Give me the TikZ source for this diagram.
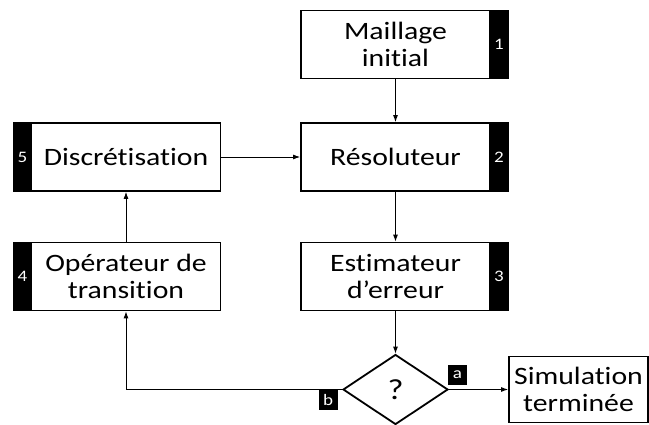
\documentclass[tikz,border=0pt]{standalone}
\usepackage{fontspec}
\setmainfont{Carlito}[Ligatures=NoCommon,FakeStretch=1.19]
\usetikzlibrary{arrows.meta,shapes.geometric}
\begin{document}
\begin{tikzpicture}[x=1pt,y=-1pt,
  box/.style={draw=black,line width=1.8pt,fill=white,minimum width=189pt,minimum height=68pt,inner sep=0pt,align=center,font=\fontsize{25}{26.5}\selectfont},
  bar/.style={draw=black,line width=1.8pt,fill=black,minimum width=18pt,minimum height=68pt,inner sep=0pt,text=white,font=\fontsize{16}{18}\selectfont},
  tag/.style={fill=black,minimum width=19pt,minimum height=20pt,inner sep=0pt,text=white,font=\fontsize{16}{18}\selectfont},
  arr/.style={-{Latex[length=7pt,width=5pt]},line width=0.9pt}]
\path[use as bounding box,fill=white] (0,0) rectangle (649,425);
% right column
\node[box] (m1) at (395.5,44.5) {Maillage\\initial};
\node[bar] (b1) at (499,44.5) {1};
\node[box] (r2) at (395.5,157) {Résoluteur};
\node[bar] (b2) at (499,157) {2};
\node[box] (e3) at (395.5,276.5) {Estimateur\\d’erreur};
\node[bar] (b3) at (499,276.5) {3};
% left column
\node[box] (d5) at (126,157) {Discrétisation};
\node[bar] (b5) at (22.5,157) {5};
\node[box] (o4) at (126,276.5) {Opérateur de\\transition};
\node[bar] (b4) at (22.5,276.5) {4};
% decision
\node[draw=black,line width=1.8pt,fill=white,diamond,aspect=1.5,minimum width=105pt,minimum height=70pt,inner sep=0pt,font=\fontsize{29}{32}\selectfont] (q) at (395.5,389.5) {?};
\node[box,minimum width=139pt,minimum height=66pt] (sim) at (578.5,389.5) {Simulation\\terminée};
\node[tag] (ta) at (457.5,375) {a};
\node[tag] (tb) at (328,400) {b};
% connectors
\coordinate (c1) at (126,389.5);
\draw[arr] (m1.south) -- (r2.north);
\draw[arr] (d5.east) -- (r2.west);
\draw[arr] (r2.south) -- (e3.north);
\draw[arr] (e3.south) -- (q.north);
\draw[arr] (q.east) -- (sim.west);
\draw[arr] (q.west) -- (c1) -- (o4.south);
\draw[arr] (o4.north) -- (d5.south);
\end{tikzpicture}
\end{document}
